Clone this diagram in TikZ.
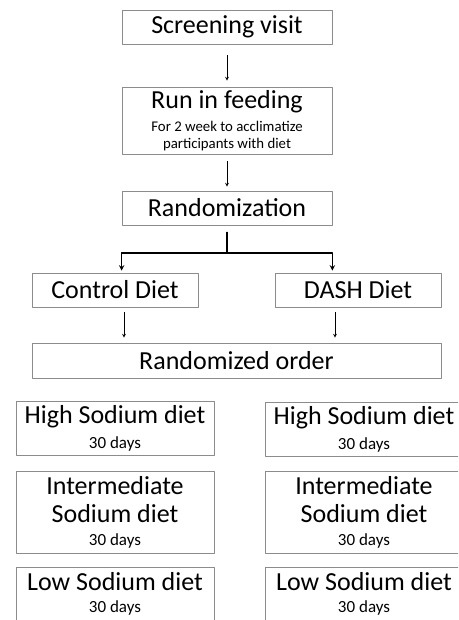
\documentclass[tikz,border=0pt]{standalone}
\usepackage{fontspec}
\setmainfont{Carlito}
\usetikzlibrary{calc}
\usetikzlibrary{arrows}

\newcommand{\bigfont}{\fontsize{26}{28}\selectfont}
\newcommand{\subfont}{\fontsize{14.8}{17}\selectfont}
\newcommand{\dayfont}{\fontsize{17}{19}\selectfont}

\begin{document}
\begin{tikzpicture}[x=1pt, y=-1pt, line cap = round, line join = round, >=stealth]
\tikzstyle{box}=[draw=gray!90, line width=0.8pt, inner sep=0pt, align=center, font=\bigfont]
\tikzstyle{flow}=[-stealth, color=black, line width=0.7pt]
\useasboundingbox (0,0) rectangle (458,620);
\begin{scope}
\clip (0,0) rectangle (458,620);
\node[box, minimum width=210pt, minimum height=34pt] (screen) at (227,27) {Screening visit};
\node[box, minimum width=210pt, minimum height=67pt] (runin) at (227,120.5) {Run in feeding\\[-5pt] {\subfont For 2 week to acclimatize}\\[-11pt] {\subfont participants with diet}};
\node[box, minimum width=210pt, minimum height=34pt] (rand) at (227,208) {Randomization};
\coordinate (split) at (227,253);
\node[box, minimum width=166pt, minimum height=34pt] (ctrl) at (115,290) {Control Diet};
\node[box, minimum width=166pt, minimum height=34pt] (dash) at (358,290) {DASH Diet};
\node[box, minimum width=409pt, minimum height=35pt] (order) at (236.5,360.5) {Randomized order};

% left column
\node[box, minimum width=198pt, minimum height=54pt] (highL) at (115,428) {High Sodium diet\\[-3pt] {\dayfont 30 days}};
\node[box, minimum width=198pt, minimum height=82pt] (interL) at (115,512) {Intermediate\\ Sodium diet\\[-5pt] {\dayfont 30 days}};
\node[box, minimum width=198pt, minimum height=54pt] (lowL) at (115,594) {Low Sodium diet\\[-6pt] {\dayfont 30 days}};
% right column
\node[box, minimum width=198pt, minimum height=54pt] (highR) at (364,429) {High Sodium diet\\[-3pt] {\dayfont 30 days}};
\node[box, minimum width=198pt, minimum height=82pt] (interR) at (364,512) {Intermediate\\ Sodium diet\\[-5pt] {\dayfont 30 days}};
\node[box, minimum width=198pt, minimum height=54pt] (lowR) at (364,594) {Low Sodium diet\\[-6pt] {\dayfont 30 days}};

\draw[flow, shorten <=11pt, shorten >=6pt] (screen) -- (runin);
\draw[flow, shorten <=7pt, shorten >=4pt] (runin) -- (rand);
\draw[line width=1.4pt, shorten <=7pt] (rand.south) -- (split);
\draw[flow, line width=1.4pt] (split) -| ($(ctrl.north -| rand.west)+(0,-2)$);
\draw[flow, line width=1.4pt] (split) -| ($(dash.north -| rand.east)+(0,-2)$);
\draw[flow, shorten <=5pt, shorten >=5pt] ([xshift=9pt]ctrl.south) -- ([xshift=9pt]ctrl.south |- order.north);
\draw[flow, shorten <=5pt, shorten >=5pt] ([xshift=-23pt]dash.south) -- ([xshift=-23pt]dash.south |- order.north);
\end{scope}
\end{tikzpicture}
\end{document}
